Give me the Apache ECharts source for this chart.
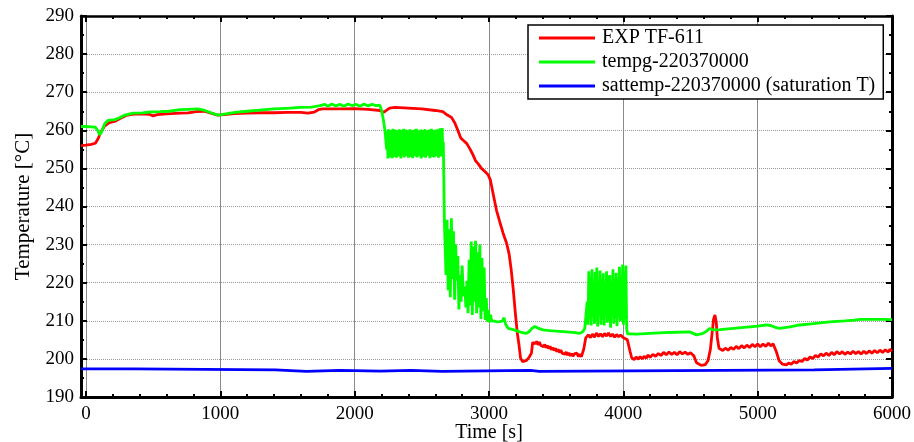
<!DOCTYPE html>
<html>
<head>
<meta charset="utf-8">
<script src="https://cdn.jsdelivr.net/npm/echarts@6/dist/echarts.min.js"></script>
<style>html,body{margin:0;padding:0;background:#fff}#c{width:914px;height:442px}</style>
</head>
<body>
<div id="c"></div>
<script>
// ---- data (time [s], temperature [°C]) ----
const seriesNames = ['EXP TF-611', 'tempg-220370000', 'sattemp-220370000 (saturation T)'];
const xTickLabels = ['0', '1000', '2000', '3000', '4000', '5000', '6000'];
const yTickLabels = ['190','200','210','220','230','240','250','260','270','280','290'];

const expTF611 = [
[-37,256.0],[0,256.1],[40,256.3],[70,256.6],[90,257.8],[110,259.5],[140,261.2],[175,262.0],[220,262.4],[260,263.2],[300,263.9],[340,264.2],[400,264.3],[470,264.2],[500,263.8],[530,264.1],[600,264.3],[700,264.5],[760,264.6],[820,264.9],[880,265.0],[930,264.5],[980,264.0],[1030,264.1],[1100,264.4],[1200,264.5],[1300,264.6],[1400,264.6],[1500,264.7],[1600,264.7],[1650,264.5],[1700,264.8],[1730,265.4],[1760,265.6],[1900,265.6],[2000,265.7],[2100,265.5],[2190,265.2],[2215,264.7],[2260,265.8],[2300,266.0],[2400,265.8],[2500,265.6],[2600,265.2],[2656,264.9],[2690,264.0],[2720,263.4],[2745,262.0],[2770,259.8],[2790,258.0],[2810,257.3],[2835,256.5],[2860,255.0],[2880,253.6],[2900,252.0],[2920,251.2],[2944,250.0],[2970,249.2],[2994,248.3],[3010,247.0],[3030,243.5],[3056,239.0],[3080,236.0],[3105,233.0],[3130,230.5],[3150,227.5],[3165,223.5],[3180,218.5],[3195,212.5],[3210,207.0],[3224,203.5],[3235,200.2],[3250,199.3],[3280,199.6],[3300,200.5],[3316,201.5],
[3325,204.3],[3335,204.8],[3345,204.0],[3355,204.6],[3365,203.7],[3375,204.4],[3385,203.6],[3395,204.1],[3405,203.2],[3415,203.8],[3425,202.9],[3435,203.5],[3445,202.7],[3455,203.3],[3465,202.4],[3475,203.0],[3485,202.2],[3495,202.8],[3505,201.9],[3515,202.5],[3525,201.7],[3535,202.3],[3545,201.5],[3555,202.0],[3565,201.2],[3575,201.8],[3585,201.0],[3595,201.6],[3605,200.8],[3615,201.4],[3625,200.7],[3635,201.3],[3645,200.9],[3655,201.5],[3665,200.6],[3675,201.2],[3688,200.6],
[3705,202.5],[3720,205.5],[3740,206.3],[3755,205.6],[3770,206.5],[3785,205.7],[3800,206.8],[3815,205.9],[3830,206.6],[3845,205.8],[3860,206.7],[3875,206.0],[3890,206.8],[3905,205.9],[3920,206.5],[3935,205.7],[3950,206.4],[3965,205.8],[3980,206.3],[3998,205.6],
[4030,205.0],[4050,202.0],[4062,200.3],[4080,199.8],[4095,200.5],[4110,199.9],[4125,200.6],[4140,200.0],[4155,200.7],[4170,200.2],[4185,201.0],[4200,200.4],[4220,201.2],[4240,200.7],[4260,201.4],[4280,200.9],[4300,201.7],[4320,201.1],[4340,201.8],[4360,201.2],[4380,201.7],[4400,201.1],[4420,201.9],[4440,201.3],[4460,201.8],[4480,201.2],[4500,201.6],
[4525,200.8],[4545,199.0],[4580,198.3],[4610,198.5],[4630,199.5],[4648,202.5],[4660,206.5],[4672,210.5],[4682,211.5],[4692,209.5],[4700,205.5],[4712,202.8],
[4740,202.2],[4760,202.8],[4780,202.3],[4800,203.0],[4820,202.5],[4840,203.3],[4860,202.7],[4880,203.5],[4900,202.9],[4920,203.6],[4940,203.0],[4960,203.8],[4980,203.2],[5000,203.9],[5020,203.2],[5040,203.9],[5060,203.3],[5080,204.1],[5100,203.4],[5115,204.0],[5128,203.8],
[5140,201.8],[5160,199.5],[5185,198.6],
[5213,198.4],[5230,198.9],[5250,198.6],[5270,199.3],[5290,198.9],[5310,199.6],[5330,199.3],[5350,200.1],[5370,199.7],[5390,200.5],[5410,200.1],[5430,200.9],[5450,200.5],[5470,201.3],[5490,200.8],[5510,201.5],[5530,200.9],[5550,201.7],[5570,201.1],[5590,201.9],[5610,201.3],[5630,201.9],[5650,201.2],[5670,201.8],[5690,201.3],[5710,202.0],[5730,201.4],[5750,201.9],[5770,201.3],[5790,202.0],[5810,201.4],[5830,202.1],[5850,201.5],[5870,202.2],[5890,201.6],[5910,202.3],[5930,201.7],[5950,202.4],[5970,201.8],[5985,202.5],[6000,202.0]
];

const tempg220370000 = [
[-37,261.0],[0,261.0],[40,260.9],[70,260.8],[90,259.8],[100,258.8],[115,259.5],[140,261.8],[165,262.6],[215,262.8],[250,263.3],[290,264.0],[350,264.5],[420,264.6],[476,264.8],[550,264.9],[620,265.0],[700,265.4],[760,265.5],[833,265.6],[885,265.2],[930,264.6],[982,264.0],[1040,264.3],[1109,264.7],[1200,265.0],[1295,265.3],[1400,265.6],[1518,265.8],[1600,266.0],[1680,266.1],[1741,266.5],[1780,266.8],[1800,266.3],[1830,266.9],[1860,266.4],[1890,266.8],[1920,266.3],[1950,266.9],[1980,266.5],[2010,266.8],[2040,266.3],[2070,266.9],[2100,266.4],[2130,266.8],[2160,266.5],[2187,266.6],[2200,265.3],[2215,262.5],[2225,260.1],[2237,255.5],
[2240,254.8],[2244,259.9],[2248,252.6],[2252,260.3],[2256,253.4],[2260,259.5],[2264,252.9],[2268,260.1],[2272,254.0],[2276,259.8],[2280,252.7],[2284,260.4],[2288,253.6],[2292,259.2],[2296,253.0],[2300,260.2],[2304,254.2],[2308,259.7],[2312,252.8],[2316,260.0],[2320,253.5],[2324,259.4],[2328,253.1],[2332,260.3],[2336,253.9],[2340,259.6],[2344,252.6],[2348,260.1],[2352,253.4],[2356,259.9],[2360,253.8],[2364,260.4],[2368,252.9],[2372,259.3],[2376,253.6],[2380,260.2],[2384,253.2],[2388,259.7],[2392,254.1],[2396,260.0],[2400,252.8],[2404,259.5],[2408,253.7],[2412,260.3],[2416,253.0],[2420,259.8],[2424,253.9],[2428,260.1],[2432,252.7],[2436,259.4],[2440,253.5],[2444,260.2],[2448,253.2],[2452,259.9],[2456,254.0],[2460,260.4],[2464,252.9],[2468,259.6],[2472,253.6],[2476,260.0],[2480,253.1],[2484,259.3],[2488,253.8],[2492,260.2],[2496,252.6],[2500,259.8],[2504,253.4],[2508,260.1],[2512,253.0],[2516,259.5],[2520,254.2],[2524,260.3],[2528,252.8],[2532,259.7],[2536,253.6],[2540,260.0],[2544,253.3],[2548,259.4],[2552,253.9],[2556,260.2],[2560,252.7],[2564,259.9],[2568,253.5],[2572,260.4],[2576,253.0],[2580,259.6],[2584,253.8],[2588,260.1],[2592,252.9],[2596,259.5],[2600,253.7],[2604,260.2],[2608,253.2],[2612,259.8],[2616,254.0],[2620,260.3],[2624,252.8],[2628,259.6],[2632,253.5],[2636,260.5],[2640,253.1],[2644,259.9],[2648,253.6],[2652,260.6],[2656,253.3],[2660,257.0],
[2664,247.0],[2668,236.0],[2671,235.5],[2680,222.0],[2688,236.5],[2696,218.0],[2704,234.0],[2712,216.2],[2720,236.9],[2728,221.0],[2736,233.5],[2744,215.5],[2752,230.0],[2760,220.5],[2768,227.0],[2776,213.0],[2784,222.0],[2792,215.0],[2800,224.5],[2810,216.5],
[2820,219.0],[2828,213.5],[2836,220.5],[2844,212.0],[2852,226.0],[2860,214.0],[2868,230.8],[2876,211.5],[2884,229.5],[2892,215.0],[2900,231.0],[2908,212.0],[2916,228.0],[2924,213.5],[2932,230.0],[2940,210.5],[2948,226.5],[2956,212.5],[2964,224.0],[2972,210.2],[2980,216.0],[2988,209.8],[2996,212.8],[3004,209.6],[3012,211.6],[3020,210.0],
[3040,209.9],[3060,209.7],[3080,209.8],[3100,210.0],[3112,210.8],[3118,210.4],[3125,209.0],[3143,208.0],[3180,207.7],[3229,207.1],[3260,206.8],[3279,206.7],[3300,207.2],[3320,208.0],[3341,208.5],[3370,208.0],[3403,207.6],[3450,207.4],[3500,207.3],[3576,207.1],[3640,206.9],[3676,206.7],[3700,207.2],[3713,208.0],[3720,208.4],
[3725,208.5],[3731,215.0],[3737,209.0],[3743,223.0],[3749,210.5],[3755,221.5],[3761,208.8],[3767,223.5],[3773,211.0],[3779,219.0],[3785,209.2],[3791,222.8],[3797,210.0],[3803,224.0],[3809,208.5],[3815,220.5],[3821,211.5],[3827,223.2],[3833,209.0],[3839,221.0],[3845,210.2],[3851,222.5],[3857,208.8],[3863,219.8],[3869,211.2],[3875,223.0],[3881,209.5],[3887,221.8],[3893,210.0],[3899,222.0],[3905,208.2],[3911,220.0],[3917,211.5],[3923,223.5],[3929,209.2],[3935,221.0],[3941,210.5],[3947,222.6],[3953,208.6],[3959,220.8],[3965,211.0],[3971,224.2],[3977,209.8],[3983,221.5],[3989,210.2],[3995,224.8],[4001,209.0],[4007,223.0],[4013,210.5],[4019,224.5],[4025,208.0],
[4031,206.6],[4100,206.5],[4196,206.7],[4300,206.9],[4400,207.0],[4494,207.1],[4519,206.7],[4544,206.3],[4570,206.5],[4593,206.7],[4620,207.3],[4643,208.0],[4660,207.7],[4680,207.6],[4720,207.7],[4817,208.0],[4900,208.3],[5000,208.6],[5064,208.9],[5101,208.7],[5130,208.3],[5164,208.0],[5240,208.4],[5312,208.9],[5400,209.2],[5480,209.5],[5560,209.8],[5650,210.0],[5720,210.2],[5759,210.4],[5850,210.4],[5930,210.4],[6000,210.3]
];

const sattemp220370000 = [
[-37,197.4],[360,197.4],[370,197.1],[1410,197.1],[1420,196.7],[1640,196.7],[1650,197.0],[1890,197.0],[1900,196.8],[2190,196.8],[2200,197.0],[2420,197.0],[2430,196.7],[2650,196.7],[2660,197.0],[3310,197.0],[3320,196.7],[3375,196.7],[3385,197.1],[5420,197.1],[5430,197.5],[6000,197.5]
];

const chart = echarts.init(document.getElementById('c'), null, {renderer: 'canvas'});
const FONT = '"Liberation Serif", "Times New Roman", serif';
const txt = {fontFamily: FONT, color: '#000', fontSize: 19};
const seriesData = [expTF611, tempg220370000, sattemp220370000];
const seriesColors = ['#ff0000', '#00ff00', '#0000ff'];

chart.setOption({
  animation: false,
  backgroundColor: '#fff',
  textStyle: {fontFamily: FONT},
  grid: [
    {left: 81, right: 22, top: 16, bottom: 45, containLabel: false, outerBoundsMode: 'none'},
    {left: 86, right: 22, top: 16, bottom: 45, containLabel: false, outerBoundsMode: 'none'}
  ],
  legend: {
    data: seriesNames,
    orient: 'vertical',
    left: 528, top: 25,
    padding: [3, 8, 3, 11],
    itemWidth: 56, itemHeight: 3, itemGap: 4,
    icon: 'rect',
    borderColor: '#000', borderWidth: 1.5, backgroundColor: '#fff',
    textStyle: {fontFamily: FONT, color: '#000', fontSize: 20, lineHeight: 20, padding: [0,0,0,2]}
  },
  xAxis: [
    {type: 'value', gridIndex: 0, position: 'bottom', min: -37, max: 6000,
     axisLine: {show: true, onZero: false, lineStyle: {color: '#000', width: 3}},
     axisTick: {show: false}, axisLabel: {show: false}, splitLine: {show: false}},
    {type: 'value', gridIndex: 0, position: 'top', min: -37, max: 6000,
     axisLine: {show: true, onZero: false, lineStyle: {color: '#000', width: 2.5}},
     axisTick: {show: false}, axisLabel: {show: false}, splitLine: {show: false}},
    {type: 'value', gridIndex: 1, position: 'bottom', min: 0, max: 6000, interval: 1000,
     name: 'Time [s]', nameLocation: 'middle', nameGap: 26, nameMoveOverlap: false,
     nameTextStyle: {fontFamily: FONT, color: '#000', fontSize: 20},
     axisLine: {show: false, onZero: false},
     axisTick: {show: true, inside: true, length: 6, lineStyle: {color: '#000', width: 2}},
     minorTick: {show: true, splitNumber: 5, length: 3, lineStyle: {color: '#000', width: 2}},
     axisLabel: Object.assign({margin: 8, formatter: (v) => xTickLabels[Math.round(v / 1000)] || ''}, txt),
     splitLine: {show: true, lineStyle: {color: '#8a8a8a', width: 1, type: 'solid'}}},
    {type: 'value', gridIndex: 1, position: 'top', min: 0, max: 6000, interval: 1000,
     axisLine: {show: false, onZero: false},
     axisTick: {show: true, inside: true, length: 6, lineStyle: {color: '#000', width: 2}},
     minorTick: {show: true, splitNumber: 5, length: 3, lineStyle: {color: '#000', width: 2}},
     axisLabel: {show: false}, splitLine: {show: false}}
  ],
  yAxis: [
    {type: 'value', gridIndex: 0, position: 'left', min: 190, max: 290, interval: 10,
     name: 'Temperature [°C]', nameLocation: 'middle', nameGap: 47, nameRotate: 90, nameMoveOverlap: false,
     nameTextStyle: {fontFamily: FONT, color: '#000', fontSize: 21},
     axisLine: {show: true, onZero: false, lineStyle: {color: '#000', width: 3}},
     axisTick: {show: true, inside: true, length: 6, lineStyle: {color: '#000', width: 2}},
     minorTick: {show: true, splitNumber: 2, length: 3, lineStyle: {color: '#000', width: 2}},
     axisLabel: Object.assign({margin: 7, formatter: (v) => yTickLabels[Math.round((v - 190) / 10)] || ''}, txt),
     splitLine: {show: true, lineStyle: {color: '#9a9a9a', width: 1, type: 'dotted'}}},
    {type: 'value', gridIndex: 0, position: 'right', min: 190, max: 290, interval: 10,
     axisLine: {show: true, onZero: false, lineStyle: {color: '#000', width: 3}},
     axisTick: {show: true, inside: true, length: 6, lineStyle: {color: '#000', width: 2}},
     minorTick: {show: true, splitNumber: 2, length: 3, lineStyle: {color: '#000', width: 2}},
     axisLabel: {show: false}, splitLine: {show: false}},
    {type: 'value', gridIndex: 1, min: 190, max: 290, show: false}
  ],
  series: seriesNames.map((n, i) => ({
    name: n, type: 'line', xAxisIndex: 0, yAxisIndex: 0,
    data: seriesData[i], showSymbol: false, symbol: 'none',
    lineStyle: {color: seriesColors[i], width: 2.8},
    itemStyle: {color: seriesColors[i]},
    clip: true, z: 3 + i
  }))
});
</script>
</body>
</html>
